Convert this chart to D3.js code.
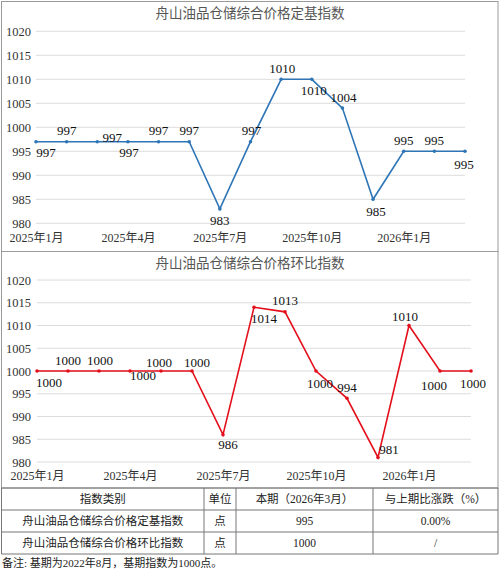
<!DOCTYPE html>
<html><head><meta charset="utf-8">
<script src="https://cdn.jsdelivr.net/npm/d3@7"></script>
<style>
body{margin:0;background:#fff;}
svg{display:block;}
svg text{font-family:"Liberation Serif","Times New Roman","Noto Sans CJK SC",serif;}
svg text.cjk{font-family:"Noto Sans CJK SC",sans-serif;}
</style></head>
<body><svg id="c" width="500" height="570"></svg>
<script>
// ---- data ----
const months = ["2025年1月","2025年2月","2025年3月","2025年4月","2025年5月","2025年6月","2025年7月","2025年8月","2025年9月","2025年10月","2025年11月","2025年12月","2026年1月","2026年2月","2026年3月"];
const tickMonths = ["2025年1月","2025年4月","2025年7月","2025年10月","2026年1月"];
const yTicks = [980,985,990,995,1000,1005,1010,1015,1020];
const fixedBase = [997,997,997,997,997,997,983,997,1010,1010,1004,985,995,995,995];
const chainIndex = [1000,1000,1000,1000,1000,1000,986,1014,1013,1000,994,981,1010,1000,1000];
const title1 = "舟山油品仓储综合价格定基指数";
const title2 = "舟山油品仓储综合价格环比指数";
const tableHead = ["指数类别","单位","本期（2026年3月）","与上期比涨跌（%）"];
const tableRow1 = ["舟山油品仓储综合价格定基指数","点","995","0.00%"];
const tableRow2 = ["舟山油品仓储综合价格环比指数","点","1000","/"];
const note = "备注: 基期为2022年8月，基期指数为1000点。";

// label placement offsets (layout only)
const lab1 = [[10,11],[0,-11],[15,-4],[1,11],[0,-11],[0,-11],[0,12],[1,-11],[1,-11],[2,11],[1,-11],[3,12],[0,-11],[0,-11],[-1,13]];
const lab2 = [[12,11],[0,-11],[1,-11],[13,4],[-2,-9],[5,-9],[5,10],[10,11],[0,-11],[4,12],[0,-11],[11,-8],[-4,-9],[-6,14],[2,12]];

const svg = d3.select("#c");

function chart(cfg){
  const g = svg.append("g");
  const x = d3.scalePoint().domain(months).range(cfg.xr);
  const y = d3.scaleLinear().domain([980,1020]).range(cfg.yr);
  g.append("text").attr("class","cjk").attr("x",250).attr("y",cfg.ty).attr("text-anchor","middle")
    .attr("font-size",13.5).attr("fill","#555").text(cfg.title);
  // grid
  g.selectAll(".gl").data(yTicks).join("line")
    .attr("x1",cfg.xr[0]).attr("x2",cfg.xr[1])
    .attr("y1",d=>y(d)).attr("y2",d=>y(d))
    .attr("stroke","#dcdcdc").attr("stroke-width",1);
  // y axis labels
  const ya = d3.axisLeft(y).tickValues(yTicks).tickFormat(d3.format("d")).tickSize(0).tickPadding(0);
  const yg = g.append("g").attr("transform",`translate(${cfg.yl},0)`).call(ya);
  yg.attr("font-family",null).attr("font-size",null);
  yg.select(".domain").remove();
  yg.selectAll("text").attr("font-size",12.5).attr("fill","#333");
  // x axis labels
  const xa = d3.axisBottom(x).tickValues(tickMonths).tickSize(0).tickPadding(0);
  const xg = g.append("g").attr("transform",`translate(0,${cfg.xl})`).call(xa);
  xg.attr("font-family",null).attr("font-size",null);
  xg.select(".domain").remove();
  xg.selectAll("text").attr("font-size",12).attr("fill","#333").attr("dy","0.35em");
  // line
  const line = d3.line().x((d,i)=>x(months[i])).y(d=>y(d));
  g.append("path").datum(cfg.data).attr("d",line).attr("fill","none")
    .attr("stroke",cfg.color).attr("stroke-width",1.6);
  g.selectAll(".pt").data(cfg.data).join("circle")
    .attr("cx",(d,i)=>x(months[i])).attr("cy",d=>y(d)).attr("r",1.8).attr("fill",cfg.color);
  g.selectAll(".lb").data(cfg.data).join("text")
    .attr("x",(d,i)=>x(months[i])+cfg.lab[i][0])
    .attr("y",(d,i)=>y(d)+cfg.lab[i][1])
    .attr("dy","0.35em").attr("text-anchor","middle")
    .attr("font-size",13).attr("fill","#111")
    .text(d=>d);
}

chart({title:title1,ty:18,xr:[36,465],yr:[223.3,31.3],yl:31,xl:238,data:fixedBase,color:"#2e75b6",lab:lab1});
chart({title:title2,ty:268,xr:[37,471],yr:[462,280],yl:31,xl:476,data:chainIndex,color:"#e3101c",lab:lab2});

// outer borders
const bc = "#9a9a9a";
svg.append("rect").attr("x",1.5).attr("y",1.5).attr("width",496.5).attr("height",250)
  .attr("fill","none").attr("stroke",bc).attr("stroke-width",1);
svg.append("rect").attr("x",1.5).attr("y",251.5).attr("width",496.5).attr("height",236.5)
  .attr("fill","none").attr("stroke",bc).attr("stroke-width",1);

// table
const colX = [1.5,204,236,373,498];
const rowY = [488,510,532,554];
const rows = [tableHead,tableRow1,tableRow2];
const tg = svg.append("g");
rowY.forEach(yv=>tg.append("line").attr("x1",colX[0]).attr("x2",colX[4]).attr("y1",yv).attr("y2",yv).attr("stroke","#777"));
colX.forEach(xv=>tg.append("line").attr("x1",xv).attr("x2",xv).attr("y1",rowY[0]).attr("y2",rowY[3]).attr("stroke","#777"));
rows.forEach((r,ri)=>{
  r.forEach((c,ci)=>{
    tg.append("text").attr("x",(colX[ci]+colX[ci+1])/2).attr("y",(rowY[ri]+rowY[ri+1])/2)
      .attr("dy","0.35em").attr("text-anchor","middle").attr("font-size",11.5).attr("fill","#222")
      .text(c);
  });
});
svg.append("text").attr("x",2).attr("y",563).attr("dy","0.35em").attr("font-size",11).attr("fill","#222")
  .text(note);
</script></body></html>
